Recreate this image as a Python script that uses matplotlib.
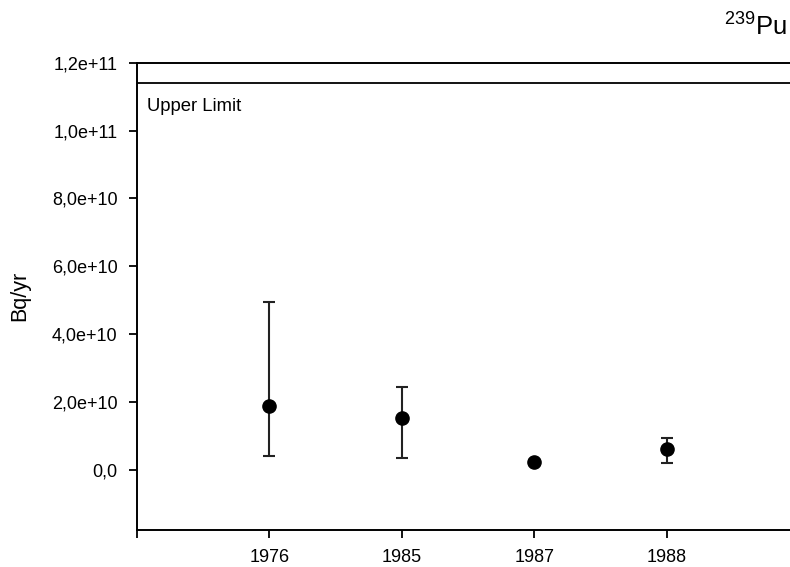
import matplotlib
matplotlib.use("Agg")
import matplotlib.pyplot as plt
import numpy as np

plt.rcParams['font.family'] = ['Liberation Sans', 'DejaVu Sans']
plt.rcParams['mathtext.fontset'] = 'custom'
plt.rcParams['mathtext.rm'] = 'Liberation Sans'
plt.rcParams['mathtext.it'] = 'Liberation Sans'

years = ['1976', '1985', '1987', '1988']
values = [1.89e10, 1.54e10, 0.245e10, 0.61e10]
upper = [4.95e10, 2.44e10, 0.30e10, 0.95e10]
lower = [0.42e10, 0.36e10, 0.19e10, 0.20e10]
upper_limit = 1.141e11
ytick_vals = [0, 2e10, 4e10, 6e10, 8e10, 1.0e11, 1.2e11]
ytick_labels = ['0,0', '2,0e+10', '4,0e+10', '6,0e+10', '8,0e+10', '1,0e+11', '1,2e+11']

W, H = 790, 567
fig = plt.figure(figsize=(W / 100, H / 100), dpi=100)
ax = fig.add_axes([137 / W, 1 - 530 / H, (799 - 137) / W, (530 - 62.7) / H])

x = np.arange(1, len(years) + 1)
vals = np.array(values)
yerr = np.array([vals - np.array(lower), np.array(upper) - vals])
ax.errorbar(x, vals, yerr=yerr, fmt='o', color='black', ms=9.5, ecolor='#222222',
            elinewidth=1.5, capsize=4.5, capthick=1.5, zorder=3)

ax.axhline(upper_limit, color='black', lw=1.3)
ax.text(0.075, 1.07e11, 'Upper Limit', fontsize=13.3, ha='left', va='center')

ax.set_xlim(0, 5)
ax.set_ylim(-1.77e10, 1.2e11)
ax.set_xticks([0] + list(x))
ax.set_xticklabels([''] + years)
ax.set_yticks(ytick_vals)
ax.set_yticklabels(ytick_labels)
ax.tick_params(axis='both', direction='out', length=6, width=1.3, labelsize=13, pad=8)
ax.set_ylabel('Bq/yr', fontsize=15.5)
ax.yaxis.set_label_coords(-0.162, (530 - 296) / (530 - 62.7))
for s in ['left', 'bottom', 'top']:
    ax.spines[s].set_linewidth(1.4)
ax.spines['right'].set_visible(False)

fig.text(724 / W, 1 - 36 / H, r'$^{239}$Pu', fontsize=18.5, ha='left', va='baseline')

fig.savefig('out.png', dpi=100)
